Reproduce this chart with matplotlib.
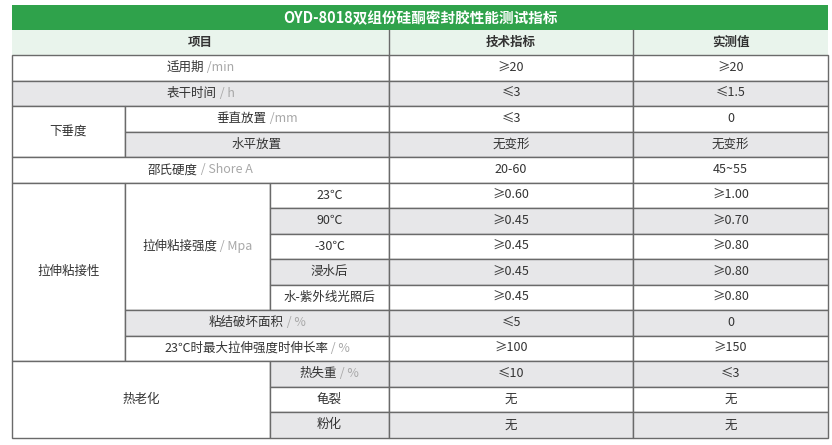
import matplotlib
matplotlib.use("Agg")
import matplotlib.pyplot as plt
from matplotlib.patches import Rectangle

plt.rcParams["font.family"] = ["Noto Sans CJK SC", "DejaVu Sans"]

TITLE = "OYD-8018双组份硅酮密封胶性能测试指标"
HEADERS = ["项目", "技术指标", "实测值"]

# (x0, x1, first row, last row, label, unit, shaded)
ITEM_CELLS = [
    (12, 389, 0, 0, "适用期", " /min", False),
    (12, 389, 1, 1, "表干时间", " / h", True),
    (12, 125, 2, 3, "下垂度", "", False),
    (125, 389, 2, 2, "垂直放置", " /mm", False),
    (125, 389, 3, 3, "水平放置", "", True),
    (12, 389, 4, 4, "邵氏硬度", " / Shore A", False),
    (12, 125, 5, 11, "拉伸粘接性", "", False),
    (125, 270, 5, 9, "拉伸粘接强度", " / Mpa", False),
    (270, 389, 5, 5, "23℃", "", False),
    (270, 389, 6, 6, "90℃", "", True),
    (270, 389, 7, 7, "-30℃", "", False),
    (270, 389, 8, 8, "浸水后", "", True),
    (270, 389, 9, 9, "水-紫外线光照后", "", False),
    (125, 389, 10, 10, "粘结破坏面积", " / %", True),
    (125, 389, 11, 11, "23℃时最大拉伸强度时伸长率", " / %", False),
    (12, 270, 12, 14, "热老化", "", False),
    (270, 389, 12, 12, "热失重", " / %", True),
    (270, 389, 13, 13, "龟裂", "", False),
    (270, 389, 14, 14, "粉化", "", True),
]

SPEC = ["≥20", "≤3", "≤3", "无变形", "20-60", "≥0.60", "≥0.45", "≥0.45",
        "≥0.45", "≥0.45", "≤5", "≥100", "≤10", "无", "无"]
MEASURED = ["≥20", "≤1.5", "0", "无变形", "45~55", "≥1.00", "≥0.70", "≥0.80",
            "≥0.80", "≥0.80", "0", "≥150", "≤3", "无", "无"]
ROW_SHADED = [False, True, False, True, False, False, True, False, True,
              False, True, False, True, False, True]

W, H = 832, 445
X_SPEC, X_MEAS, X_END = 389, 633, 828
Y_TITLE, Y_HEAD, Y_BODY, ROW_H = 5, 30, 55, 25.5

GREEN = "#2fa24b"
HEAD_BG = "#e9f4ec"
GREY_BG = "#e7e7e9"
LINE = "#6a6a6a"
TEXT = "#333333"
UNIT = "#a8a8a8"
FS = 9

fig = plt.figure(figsize=(W / 100, H / 100), dpi=100)
ax = fig.add_axes([0, 0, 1, 1])
ax.set_xlim(0, W)
ax.set_ylim(H, 0)
ax.axis("off")


def cell(x0, x1, y0, y1, fc):
    ax.add_patch(Rectangle((x0, y0), x1 - x0, y1 - y0, facecolor=fc,
                           edgecolor=LINE, linewidth=1.0))


# title band
ax.add_patch(Rectangle((12, Y_TITLE), X_END - 12, Y_HEAD - Y_TITLE,
                       facecolor=GREEN, edgecolor="none"))
ax.text((12 + X_END) / 2, (Y_TITLE + Y_HEAD) / 2 + 1, TITLE, color="white",
        fontsize=10.5, fontweight="bold", ha="center", va="center")

# header
ax.add_patch(Rectangle((12, Y_HEAD), X_END - 12, Y_BODY - Y_HEAD,
                       facecolor=HEAD_BG, edgecolor="none"))
for x in (X_SPEC, X_MEAS):
    ax.plot([x, x], [Y_HEAD, Y_BODY], color=LINE, lw=1.0)
for (x0, x1), h in zip([(12, X_SPEC), (X_SPEC, X_MEAS), (X_MEAS, X_END)],
                       HEADERS):
    ax.text((x0 + x1) / 2, (Y_HEAD + Y_BODY) / 2, h, color=TEXT,
            fontsize=FS, fontweight="bold", ha="center", va="center")

fig.canvas.draw()
renderer = fig.canvas.get_renderer()

for x0, x1, r0, r1, label, unit, shaded in ITEM_CELLS:
    y0 = Y_BODY + r0 * ROW_H
    y1 = Y_BODY + (r1 + 1) * ROW_H
    cell(x0, x1, y0, y1, GREY_BG if shaded else "white")
    cx, cy = (x0 + x1) / 2, (y0 + y1) / 2
    t1 = ax.text(cx, cy, label, color=TEXT, fontsize=FS, ha="left",
                 va="center")
    t2 = ax.text(cx, cy, unit, color=UNIT, fontsize=FS, ha="left",
                 va="center")
    w1 = t1.get_window_extent(renderer).width
    w2 = t2.get_window_extent(renderer).width if unit else 0
    start = cx - (w1 + w2) / 2
    t1.set_x(start)
    t2.set_x(start + w1)

for i, (s, m, shaded) in enumerate(zip(SPEC, MEASURED, ROW_SHADED)):
    y0 = Y_BODY + i * ROW_H
    fc = GREY_BG if shaded else "white"
    cell(X_SPEC, X_MEAS, y0, y0 + ROW_H, fc)
    cell(X_MEAS, X_END, y0, y0 + ROW_H, fc)
    ax.text((X_SPEC + X_MEAS) / 2, y0 + ROW_H / 2, s, color=TEXT,
            fontsize=FS, ha="center", va="center")
    ax.text((X_MEAS + X_END) / 2, y0 + ROW_H / 2, m, color=TEXT,
            fontsize=FS, ha="center", va="center")

fig.savefig("out.png", dpi=100, facecolor="white")
